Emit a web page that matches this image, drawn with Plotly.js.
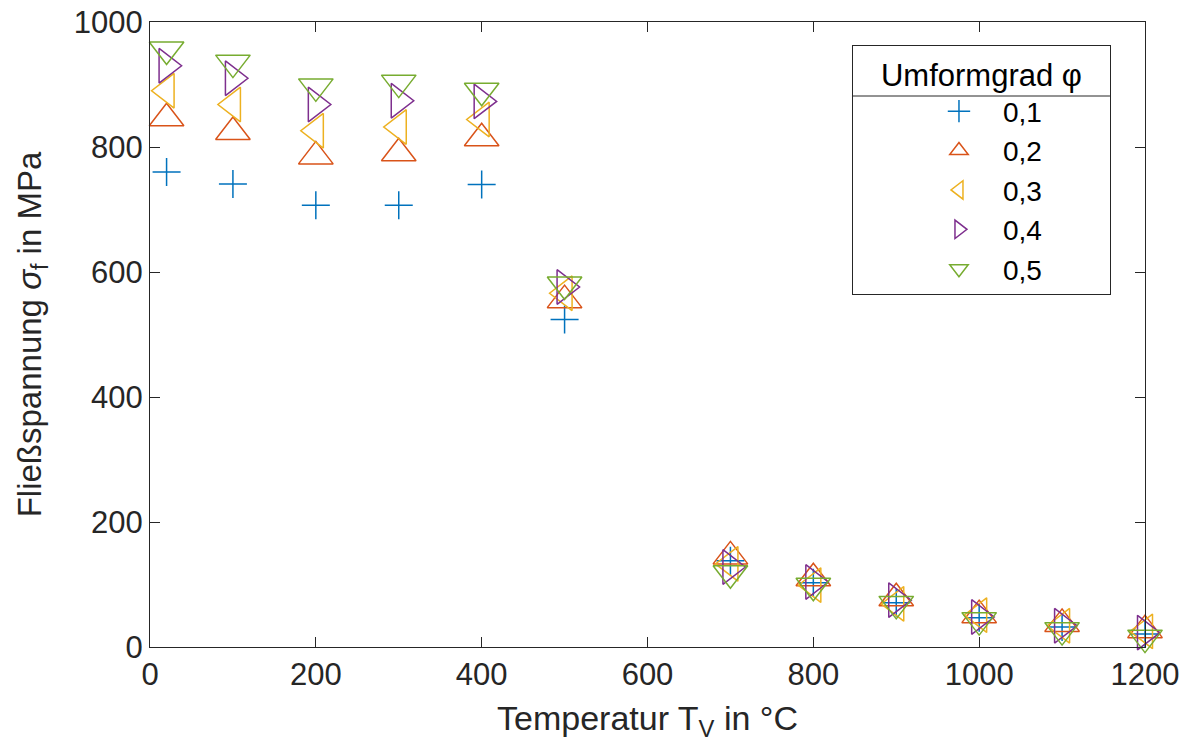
<!DOCTYPE html>
<html>
<head>
<meta charset="utf-8">
<script src="https://cdn.plot.ly/plotly-3.0.1.min.js"></script>
<style>html,body{margin:0;padding:0;background:#fff}#chart{width:1188px;height:746px}</style>
</head>
<body>
<div id="chart"></div>
<script>
const temperatures = [20, 100, 200, 300, 400, 500, 700, 800, 900, 1000, 1100, 1200];
const phi01 = [760, 741, 707, 707, 740, 524, 138, 103, 71, 47, 32, 21];
const phi02 = [846, 824, 785, 790, 814, 555, 145, 110, 78, 51, 37, 27];
const phi03 = [890, 868, 826, 832, 844, 566, 133, 99, 69, 51, 34, 25];
const phi04 = [930, 910, 868, 874, 873, 576, 128, 104, 75, 48, 34, 23];
const phi05 = [956, 935, 897, 903, 890, 580, 118, 98, 69, 43, 27, 15];
const seriesNames = ['0,1', '0,2', '0,3', '0,4', '0,5'];
const xTicks = [0, 200, 400, 600, 800, 1000, 1200];
const yTicks = [0, 200, 400, 600, 800, 1000];

const colors = ['#0072BD', '#D95319', '#EDB120', '#7E2F8E', '#77AC30'];
const symbols = ['cross-thin', 'triangle-up-open', 'triangle-left-open', 'triangle-right-open', 'triangle-down-open'];
const sizes = [20, 30, 30, 30, 30];
const allSeries = [phi01, phi02, phi03, phi04, phi05];

const FONT = 'Liberation Sans, Arial, sans-serif';
const AX = '#262626';

const traces = allSeries.map((ys, i) => ({
  type: 'scatter',
  mode: 'markers',
  name: seriesNames[i],
  x: temperatures,
  y: ys,
  cliponaxis: false,
  marker: {
    symbol: symbols[i],
    size: sizes[i],
    color: colors[i],
    line: {color: colors[i], width: 1.5}
  }
}));

const axisCommon = {
  showgrid: false,
  zeroline: false,
  showline: true,
  linecolor: AX,
  linewidth: 1,
  mirror: 'ticks',
  ticks: 'inside',
  ticklen: 10,
  tickwidth: 1,
  tickcolor: AX,
  tickfont: {family: FONT, size: 31, color: AX}
};

const NB = '&nbsp;&nbsp;&nbsp;';

const layout = {
  width: 1188,
  height: 746,
  paper_bgcolor: '#fff',
  plot_bgcolor: '#fff',
  margin: {l: 150, r: 43, t: 22, b: 99},
  font: {family: FONT, color: AX},
  xaxis: Object.assign({}, axisCommon, {
    range: [0, 1200],
    tickvals: xTicks,
    ticktext: xTicks.map(String),
    title: {text: 'Temperatur T<sub>V</sub> in °C', font: {family: FONT, size: 34, color: AX}, standoff: 14}
  }),
  yaxis: Object.assign({}, axisCommon, {
    range: [0, 1000],
    tickvals: yTicks,
    ticktext: yTicks.map(String),
    title: {text: 'Fließspannung <i>σ</i><sub>f</sub> in MPa', font: {family: FONT, size: 33, color: AX}, standoff: 22}
  }),
  legend: {
    x: 0.7055, xanchor: 'left',
    y: 0.963, yanchor: 'top',
    bgcolor: 'rgba(0,0,0,0)',
    bordercolor: AX,
    borderwidth: 1,
    font: {family: FONT, size: 28, color: '#000'},
    title: {text: NB + 'Umformgrad φ' + NB, side: 'top center', font: {family: FONT, size: 31, color: '#000'}},
    indentation: 62,
    itemwidth: 78,
    itemsizing: 'trace',
    tracegroupgap: 0
  },
  shapes: [{
    type: 'line', xref: 'paper', yref: 'paper',
    x0: 0.7055, x1: 0.9648, y0: 0.8816, y1: 0.8816,
    line: {color: AX, width: 1}
  }],
  showlegend: true
};

Plotly.newPlot('chart', traces, layout, {displayModeBar: false, staticPlot: true});
</script>
</body>
</html>
